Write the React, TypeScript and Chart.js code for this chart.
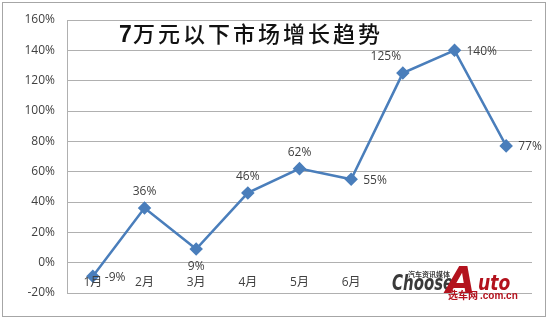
import React, { useEffect, useRef } from "react";
import { Chart, registerables } from "chart.js";

Chart.register(...registerables);

const categories = ["1月", "2月", "3月", "4月", "5月", "6月", "7月", "8月", "9月"];
const growth = [-9, 36, 9, 46, 62, 55, 125, 140, 77];
const yTicks = [-20, 0, 20, 40, 60, 80, 100, 120, 140, 160];
const titleNum = "7";
const titleRest = "万元以下市场增长趋势";

// label placement per point (style only)
const labelPlace = ["right", "above", "below", "above", "above", "right", "aboveLeft", "right", "right"];

const BLUE = "#4a7ebb";
const TEXT = "#404040";

const overlay = {
  id: "overlay",
  afterDraw(chart: any) {
    const ctx = chart.ctx;
    const xs = chart.scales.x;
    const ys = chart.scales.y;
    ctx.save();
    // outer border
    ctx.strokeStyle = "#a6a6a6";
    ctx.lineWidth = 1;
    ctx.strokeRect(2.5, 2.5, 543, 314);

    // category labels at the zero line
    ctx.font = "12px 'Open Sans', 'Noto Sans CJK SC', sans-serif";
    ctx.fillStyle = TEXT;
    ctx.textAlign = "center";
    ctx.textBaseline = "middle";
    const y0 = ys.getPixelForValue(0);
    categories.forEach((c, i) => {
      ctx.fillText(c, xs.getPixelForValue(i), y0 + 20);
    });

    // data labels
    const meta = chart.getDatasetMeta(0);
    ctx.font = "12px 'Open Sans', sans-serif";
    meta.data.forEach((pt: any, i: number) => {
      const txt = growth[i] + "%";
      const p = labelPlace[i];
      let x = pt.x, y = pt.y;
      if (p === "above") { ctx.textAlign = "center"; y -= 16; }
      else if (p === "below") { ctx.textAlign = "center"; y += 18; }
      else if (p === "right") { ctx.textAlign = "left"; x += 12; y += 1; }
      else if (p === "aboveLeft") { ctx.textAlign = "center"; x -= 17; y -= 17; }
      ctx.fillText(txt, x, y);
    });

    // title
    ctx.fillStyle = "#111";
    ctx.textAlign = "left";
    ctx.textBaseline = "alphabetic";
    ctx.font = "bold 23px 'Liberation Sans', sans-serif";
    ctx.fillText(titleNum, 119, 42);
    ctx.font = "500 22px 'Noto Sans CJK SC', sans-serif";
    try { (ctx as any).letterSpacing = "3px"; } catch (e) {}
    ctx.fillText(titleRest, 133, 42);
    try { (ctx as any).letterSpacing = "0px"; } catch (e) {}

    // watermark
    ctx.fillStyle = "#ffffff";
    ctx.fillRect(392, 267, 128, 24);
    ctx.fillStyle = "#3a3a3a";
    ctx.font = "italic 900 22px 'DejaVu Sans', sans-serif";
    ctx.save();
    ctx.translate(392, 290);
    ctx.scale(0.68, 1);
    ctx.fillText("Choose", 0, 0);
    ctx.restore();
    ctx.font = "bold 7px 'Noto Sans CJK SC', sans-serif";
    ctx.fillText("汽车资讯媒体", 408, 277);
    ctx.fillStyle = "#b3121d";
    ctx.font = "italic 900 38px 'DejaVu Sans', sans-serif";
    ctx.fillText("A", 446, 293);
    ctx.font = "italic 900 22px 'DejaVu Sans', sans-serif";
    ctx.save();
    ctx.translate(478, 290);
    ctx.scale(0.78, 1);
    ctx.fillText("uto", 0, 0);
    ctx.restore();
    ctx.font = "bold 10px 'Noto Sans CJK SC', sans-serif";
    ctx.fillText("选车网", 448, 299);
    ctx.font = "bold 10px 'Liberation Sans', sans-serif";
    ctx.fillText(".com.cn", 480, 299);
    ctx.restore();
  },
};

export default function App() {
  const ref = useRef<HTMLCanvasElement>(null);
  useEffect(() => {
    document.body.style.margin = "0";
    const chart = new Chart(ref.current!, {
      type: "line",
      data: {
        labels: categories,
        datasets: [
          {
            data: growth,
            borderColor: BLUE,
            backgroundColor: BLUE,
            borderWidth: 2.5,
            pointStyle: "rectRot",
            pointRadius: 5,
            pointBackgroundColor: BLUE,
            pointBorderColor: BLUE,
            tension: 0,
          },
        ],
      },
      options: {
        animation: false,
        responsive: false,
        maintainAspectRatio: false,
        layout: { padding: { left: 0, top: 20, right: 18, bottom: 27 } },
        plugins: { legend: { display: false }, tooltip: { enabled: false }, title: { display: false } },
        scales: {
          x: {
            type: "category",
            offset: true,
            display: false,
            grid: { display: false },
          },
          y: {
            min: -20,
            max: 160,
            afterFit: (s: any) => { s.width = 67; },
            afterBuildTicks: (s: any) => { s.ticks = yTicks.map((v) => ({ value: v })); },
            grid: { color: "#b0b0b0", lineWidth: 1, drawTicks: false },
            border: { display: true, color: "#b0b0b0", width: 1 },
            ticks: {
              padding: 12,
              color: TEXT,
              font: { size: 12, family: "'Open Sans', sans-serif" },
              callback: (v: any) => v + "%",
            },
          },
        },
      },
      plugins: [overlay],
    });
    return () => chart.destroy();
  }, []);
  return (
    <div style={{ position: "absolute", left: 0, top: 0, width: 550, height: 320, background: "#fff" }}>
      <canvas ref={ref} width={550} height={320} style={{ width: 550, height: 320 }} />
    </div>
  );
}
